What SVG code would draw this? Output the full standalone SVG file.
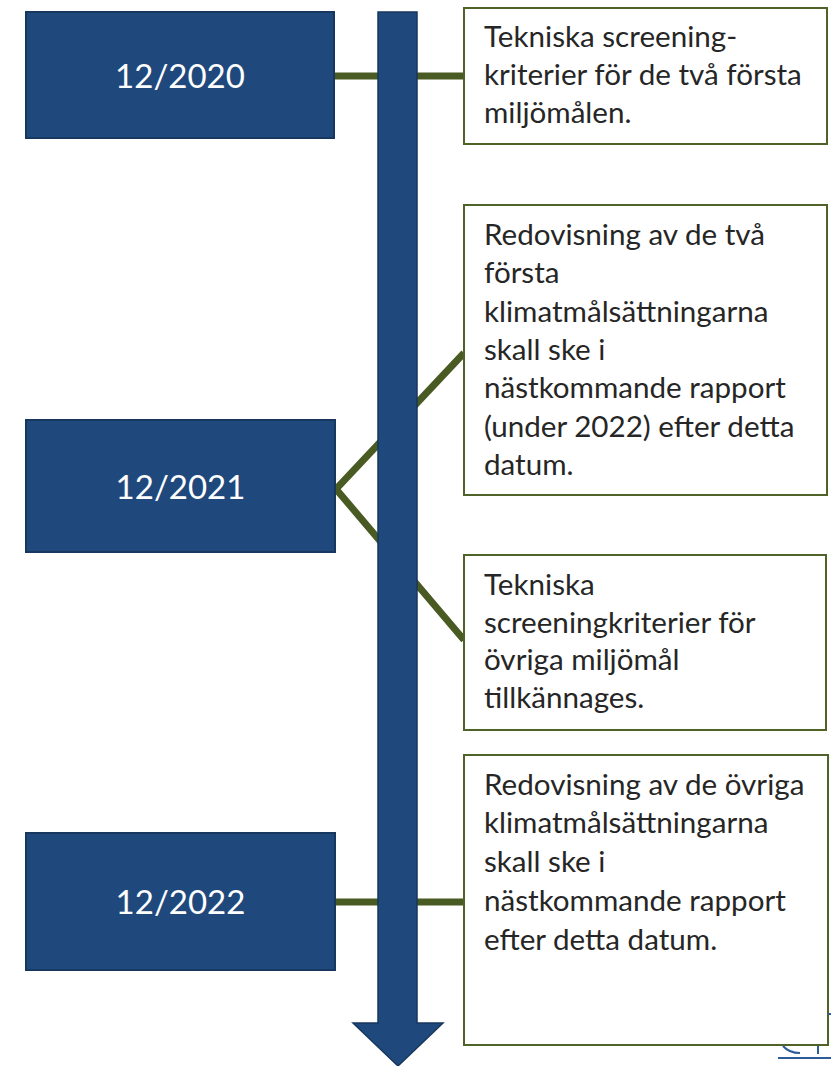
<svg xmlns="http://www.w3.org/2000/svg" width="831" height="1066" viewBox="0 0 831 1066">
<style>
.date{fill:#1F497D;stroke:#17375E;stroke-width:2}
.dt{font-family:Lato,"Liberation Sans",sans-serif;font-size:33px;fill:#FFFFFF;text-anchor:middle}
.note{fill:#FFFFFF;stroke:#4F6228;stroke-width:2}
.nt{font-family:Lato,"Liberation Sans",sans-serif;font-size:29.6px;fill:#262626}
.con{stroke:#4A5A23;stroke-width:7;fill:none}
.bar{fill:#1F497D;stroke:#17375E;stroke-width:1.5}
</style>
<rect width="831" height="1066" fill="#FFFFFF"/>
<g id="connectors">
<line class="con" x1="334" y1="76" x2="464" y2="76"/>
<polyline class="con" points="464,353 336,489 464,640" stroke-linejoin="miter"/>
<line class="con" x1="334" y1="902" x2="464" y2="902"/>
</g>
<g id="timeline">
<path class="bar" d="M378,12 H417 V1023 H443 L398,1066 L353,1023 H378 Z"/>
</g>
<g id="d2020">
<rect class="date" x="26" y="12" width="308" height="126"/>
<text class="dt" x="180" y="88">12/2020</text>
</g>
<g id="d2021">
<rect class="date" x="26" y="420" width="309" height="132"/>
<text class="dt" x="180.5" y="499">12/2021</text>
</g>
<g id="d2022">
<rect class="date" x="26" y="833" width="309" height="137"/>
<text class="dt" x="180.5" y="914">12/2022</text>
</g>
<g id="n1">
<rect class="note" x="464" y="8" width="363" height="136"/>
<text class="nt"><tspan x="484" y="47">Tekniska screening-</tspan><tspan x="484" y="85">kriterier för de två första</tspan><tspan x="484" y="123">miljömålen.</tspan></text>
</g>
<g id="n2">
<rect class="note" x="464" y="205" width="363" height="290"/>
<text class="nt"><tspan x="484" y="245">Redovisning av de två</tspan><tspan x="484" y="283">första</tspan><tspan x="484" y="322">klimatmålsättningarna</tspan><tspan x="484" y="360">skall ske i</tspan><tspan x="484" y="398">nästkommande rapport</tspan><tspan x="484" y="437">(under 2022) efter detta</tspan><tspan x="484" y="475">datum.</tspan></text>
</g>
<g id="n3">
<rect class="note" x="464" y="555" width="362" height="175"/>
<text class="nt"><tspan x="484" y="595">Tekniska</tspan><tspan x="484" y="633">screeningkriterier för</tspan><tspan x="484" y="670">övriga miljömål</tspan><tspan x="484" y="708">tillkännages.</tspan></text>
</g>
<g id="n4">
<rect class="note" x="464" y="755" width="364" height="290"/>
<text class="nt"><tspan x="484" y="795">Redovisning av de övriga</tspan><tspan x="484" y="833">klimatmålsättningarna</tspan><tspan x="484" y="872">skall ske i</tspan><tspan x="484" y="911">nästkommande rapport</tspan><tspan x="484" y="950">efter detta datum.</tspan></text>
</g>
<g id="fragment" fill="none" stroke="#2E5C9A" stroke-width="2">
<path d="M783,1046 Q789,1053 800,1053"/>
<line x1="818" y1="1046" x2="818" y2="1054"/>
<line x1="778" y1="1058" x2="831" y2="1058"/>
<line x1="828" y1="1014" x2="831" y2="1014"/>
</g>
</svg>
